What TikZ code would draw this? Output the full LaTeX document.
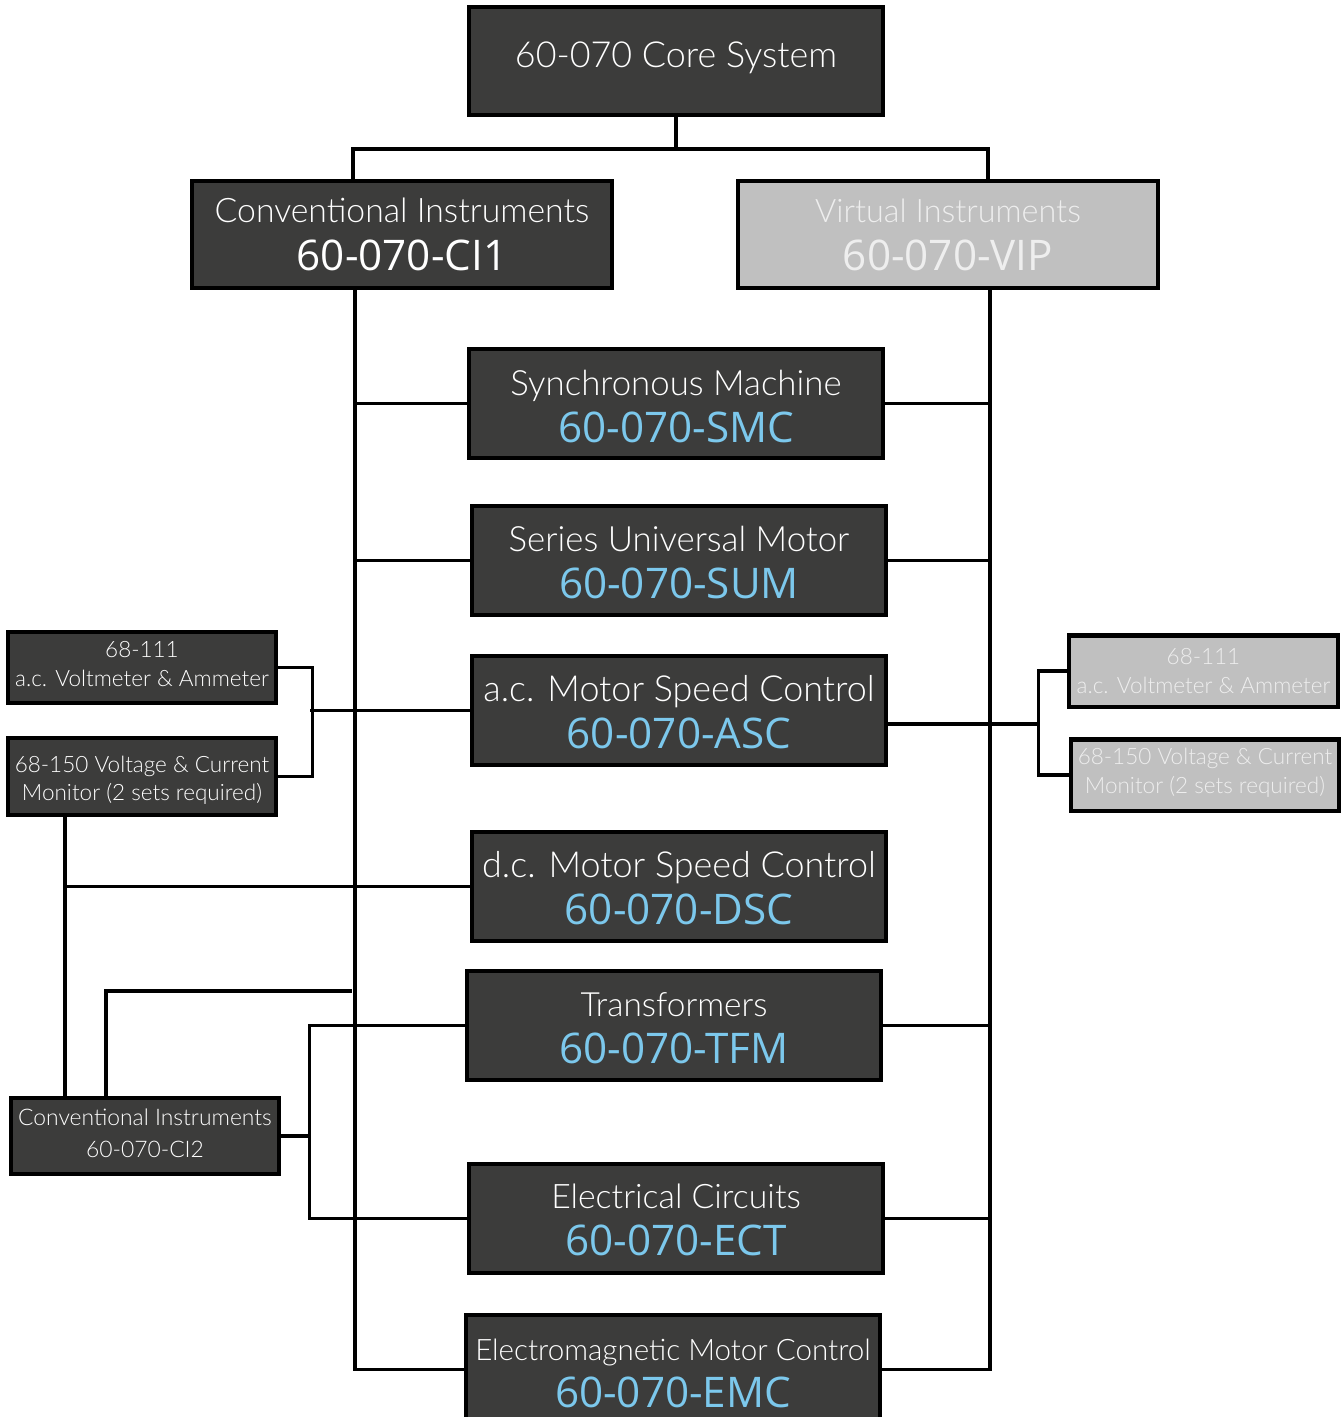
\documentclass[tikz,border=0pt]{standalone}
\usepackage{fontspec}
\usepackage{xcolor}
\IfFontExistsTF{Lato Light}{\newfontfamily\thinfont{Lato Light}}{%
 \IfFontExistsTF{Lato-Light.ttf}{\newfontfamily\thinfont{Lato-Light.ttf}}{%
  \IfFontExistsTF{Poppins Light}{\newfontfamily\thinfont{Poppins Light}}{%
   \IfFontExistsTF{Open Sans Light}{\newfontfamily\thinfont{Open Sans Light}}{%
    \newfontfamily\thinfont{Lato}}}}}
\newfontfamily\codefont{Open Sans}

\definecolor{boxgray}{HTML}{3C3C3B}
\definecolor{lightbox}{HTML}{C0C0C0}
\definecolor{codeblue}{HTML}{7CC8EC}
\definecolor{paletext}{HTML}{EEEEEE}

% two lines, last baseline #1 below the node centre
\newcommand{\stacktext}[4]{\raisebox{-#1}[0pt][0pt]{\fontsize{#2}{#3}\selectfont\begin{tabular}[b]{@{}c@{}}#4\end{tabular}}}
% title line (size #3) + code line of a module box
\newcommand{\modtext}[5][codeblue]{\stacktext{#2}{#3}{13.4}{{\thinfont #4}\\{\fontsize{12}{13.4}\codefont\color{#1}#5}}}

\begin{document}
\begin{tikzpicture}[x=0.01cm,y=-0.01cm,line width=0.9pt,
	unit box/.style={draw=black,line width=1.15pt,fill=boxgray,text=white,inner sep=0pt},
	module box/.style={unit box,minimum width=4.14cm,minimum height=1.09cm},
	group box/.style={unit box,minimum width=4.2cm,minimum height=1.07cm},
	meter box/.style={unit box,minimum width=2.68cm,minimum height=0.71cm,font=\thinfont},
	virtual/.style={fill=lightbox,text=paletext}]

	\useasboundingbox (0,0) rectangle (1343,1417);

	\node[module box,minimum height=1.08cm] (core) at (676,61)
		{\stacktext{0.6mm}{10.2}{12}{\thinfont 60-070 Core System}};
	\node[group box] (ci1) at (402,234.5) {\modtext[white]{3.55mm}{9.6}{Conventional Instruments}{60-070-CI1}};
	\node[group box,virtual] (vip) at (948,234.5) {\modtext[paletext]{3.55mm}{9.2}{Virtual Instruments}{60-070-VIP}};

	\node[module box] (smc) at (676,403.5) {\modtext{3.9mm}{9.9}{Synchronous Machine}{60-070-SMC}};
	\node[module box] (sum) at (679,560.5) {\modtext{3.8mm}{9.9}{Series Universal Motor}{60-070-SUM}};
	\node[module box] (asc) at (679,710.5) {\modtext{3.8mm}{10.2}{a.c. Motor Speed Control}{60-070-ASC}};
	\node[module box] (dsc) at (679,886.5) {\modtext{3.8mm}{10.2}{d.c. Motor Speed Control}{60-070-DSC}};
	\node[module box] (tfm) at (674,1025.5) {\modtext{3.8mm}{9.5}{Transformers}{60-070-TFM}};
	\node[module box] (ect) at (676,1218.5) {\modtext{3.7mm}{9.6}{Electrical Circuits}{60-070-ECT}};
	\node[module box] (emc) at (673,1369.5) {\modtext{3.8mm}{8.4}{Electromagnetic Motor Control}{60-070-EMC}};

	\node[meter box] (m111) at (142,667.5) {\stacktext{1.85mm}{6.4}{8}{68-111\\a.c. Voltmeter \& Ammeter}};
	\node[meter box,minimum height=0.77cm] (m150) at (142,776.5) {\stacktext{2.4mm}{6.4}{8}{68-150 Voltage \& Current\\Monitor (2 sets required)}};
	\node[meter box,virtual] (r111) at (1203.5,671) {\stacktext{2.2mm}{6.4}{8}{68-111\\a.c. Voltmeter \& Ammeter}};
	\node[meter box,virtual] (r150) at (1205,775) {\stacktext{1.8mm}{6.4}{8}{68-150 Voltage \& Current\\Monitor (2 sets required)}};
	\node[meter box,minimum height=0.76cm] (ci2) at (145,1136) {\stacktext{2.1mm}{6.5}{9}{Conventional Instruments\\60-070-CI2}};

	\coordinate (lx) at (355,0);
	\coordinate (rx) at (990,0);

	% core to the two instrument sets
	\draw (core.south) -- ++(0,32) coordinate (fork);
	\draw (ci1.north -| 353,0) |- (fork) -| (vip.north -| 988,0);

	% spines
	\draw (ci1.south -| lx) |- (emc.west);
	\draw (vip.south -| rx) |- (emc.east);
	\draw (lx |- smc.west) -- (smc.west);
	\draw (lx |- sum.west) -- (sum.west);
	\draw (smc.east) -- (rx |- smc.east);
	\draw (sum.east) -- (rx |- sum.east);
	\draw (tfm.east) -- (rx |- tfm.east);
	\draw (ect.east) -- (rx |- ect.east);

	% meters on the a.c. speed control
	\draw (m111.east) -- ++(34,0) |- (m150.east);
	\draw (asc.west -| 310,0) -- (asc.west);
	\draw ([yshift=-1.35mm]asc.east) -- ++(150,0) coordinate (rbr);
	\draw (r111.west) -| (rbr) |- (r150.west);

	% second conventional set
	\draw (m150.south -| 65,0) -- (ci2.north -| 65,0);
	\draw (dsc.west -| 65,0) -- (dsc.west);
	\draw (ci2.north -| 106,0) |- (352,991);
	\draw (ci2.east) -- ++(28,0) coordinate (cbr);
	\draw (tfm.west) -| (cbr) |- (ect.west);
\end{tikzpicture}
\end{document}
